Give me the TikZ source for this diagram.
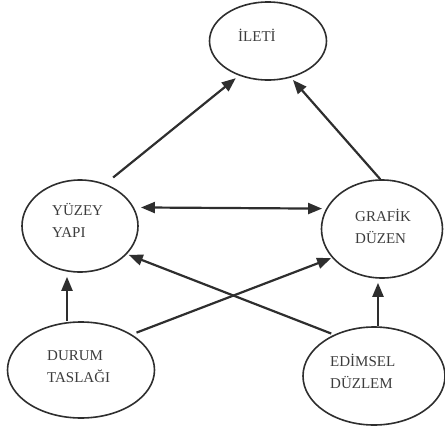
\documentclass[tikz,border=0pt]{standalone}
\usepackage{fontspec}
\setmainfont{Liberation Serif}
\usetikzlibrary{shapes.geometric}
\usetikzlibrary{arrows.meta}
\definecolor{ink}{HTML}{2E2E2E}
\definecolor{inktext}{HTML}{3C3C3C}

\begin{document}
\begin{tikzpicture}[x=1pt, y=-1pt,
  oval/.style={draw=ink, line width=1.6pt, ellipse, inner sep=0pt},
  lbl/.style={anchor=west, align=left, inner sep=0pt, text=inktext,
    font=\fontsize{15}{22}\selectfont},
  arr/.style={draw=ink, line width=2.2pt, -{Triangle[length=14pt, width=11pt]}}]
\useasboundingbox (0,0) rectangle (445,431);

% ovals
\node[oval, minimum width=117pt, minimum height=78pt] (ileti) at (268,41) {};
\node[oval, minimum width=116pt, minimum height=92pt] (yuzey) at (80,226) {};
\node[oval, minimum width=121pt, minimum height=98pt] (grafik) at (382,229) {};
\node[oval, minimum width=147pt, minimum height=96pt] (durum) at (81,370) {};
\node[oval, minimum width=142pt, minimum height=98pt] (edimsel) at (374,376) {};

% texts
\node[lbl] (ileti-t) at (238,35) {İLETİ};
\node[lbl] (yuzey-t) at (52,220) {YÜZEY\\YAPI};
\node[lbl] (grafik-t) at (355,226) {GRAFİK\\DÜZEN};
\node[lbl] (durum-t) at (47,367) {DURUM\\TASLAĞI};
\node[lbl] (edimsel-t) at (330,371) {EDİMSEL\\DÜZLEM};

% arrows
\draw[arr, shorten <=10pt, shorten >=4pt] (yuzey.59) -- (ileti.-130);
\draw[arr, shorten >=3pt] (grafik.92) -- (ileti.-58);
\draw[arr, {Triangle[length=14pt, width=11pt]}-{Triangle[length=14pt, width=11pt]},
  shorten <=7pt, shorten >=4pt] (yuzey.19) -- (grafik.160);
\draw[arr, shorten >=4pt] ([xshift=-14pt]durum.north) -- ([xshift=-13pt]yuzey.south);
\draw[arr, shorten >=4pt] ([xshift=4pt]edimsel.north) -- ([xshift=-4pt]grafik.south);
\draw[arr, shorten <=5pt, shorten >=1pt] (durum.35) -- (grafik.-150);
\draw[arr, shorten <=3pt, shorten >=2pt] (edimsel.134) -- (yuzey.-31);

\end{tikzpicture}
\end{document}
